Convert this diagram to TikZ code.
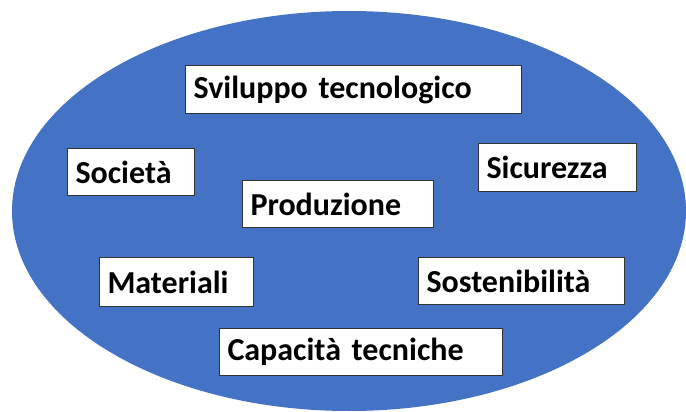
\documentclass[tikz,border=0pt]{standalone}
\usepackage{fontspec}
\setmainfont{Carlito}
\definecolor{ovalblue}{HTML}{4472C4}
\tikzset{
  box/.style={draw=black!80, fill=white, line width=1pt, anchor=north west,
    inner xsep=8pt, inner ysep=0pt, align=left,
    font=\bfseries\fontsize{32}{36}\selectfont}
}

\begin{document}
\begin{tikzpicture}[x=1pt,y=-1pt]

      \useasboundingbox (0,0) rectangle (686,412);

      % the big oval behind all the labels
      \fill[ovalblue] (349,211) ellipse [x radius=337, y radius=200];

      % the seven labels, placed by their top left corner
      \node[box, text width=320pt, minimum height=48pt] (svil) at (185,65) {Sviluppo tecnologico};
      \node[box, text width=111pt, minimum height=47pt] (soc) at (67,148) {Società};
      \node[box, text width=142pt, minimum height=48pt] (sic) at (478,143) {Sicurezza};
      \node[box, text width=175pt, minimum height=47pt] (prod) at (242,180) {Produzione};
      \node[box, text width=138pt, minimum height=49pt] (mat) at (99,257) {Materiali};
      \node[box, text width=190pt, minimum height=47pt] (sost) at (418,257) {Sostenibilità};
      \node[box, text width=267pt, minimum height=47pt] (cap) at (219,328) {Capacità tecniche};

    \end{tikzpicture}
\end{document}
